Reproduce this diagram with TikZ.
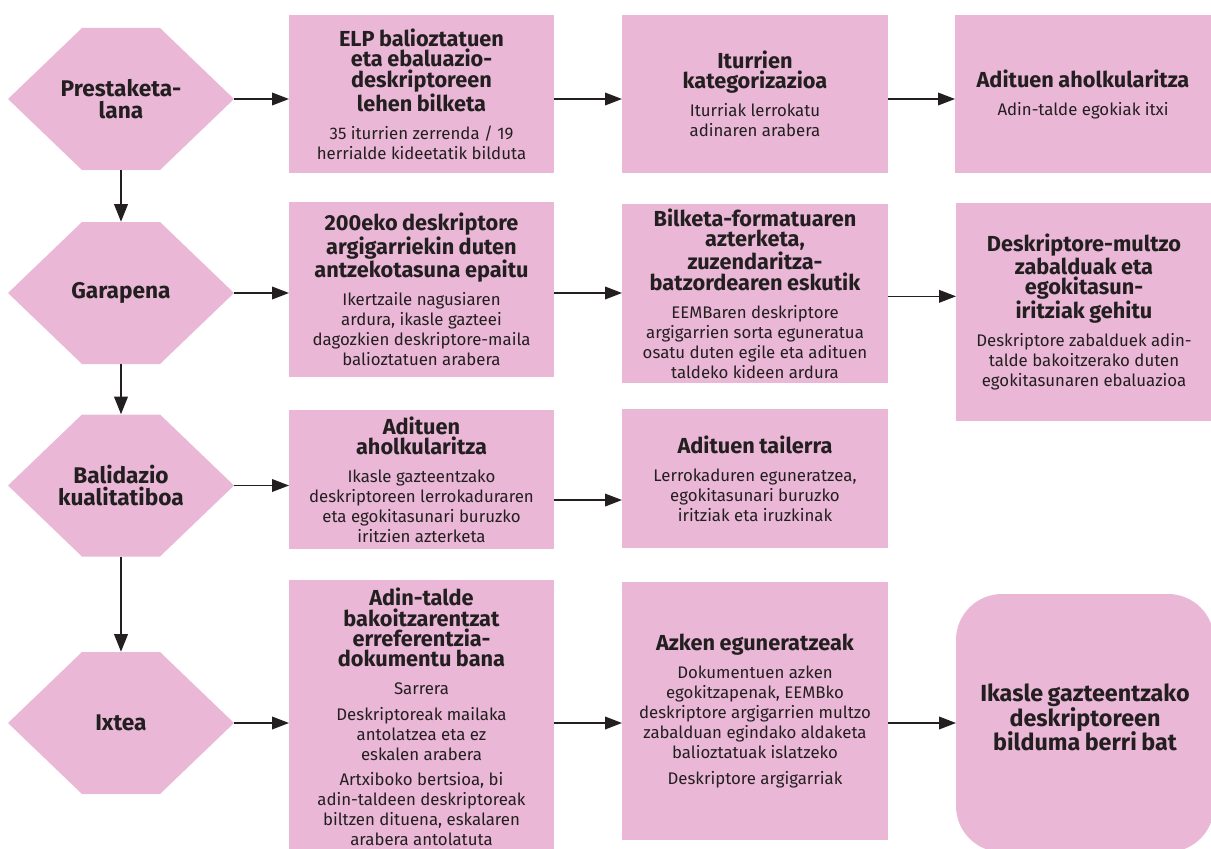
\documentclass[tikz,border=0pt]{standalone}
\usepackage{fontspec}
\setmainfont{Fira Sans}
\usetikzlibrary{arrows.meta,backgrounds}
\definecolor{boxpink}{RGB}{234,183,214}
\definecolor{ink}{RGB}{35,31,32}
\newcommand\ttlfont{\fontsize{16.3pt}{15.3pt}\selectfont\bfseries}
\newcommand\bdyfont{\fontsize{12.6pt}{15pt}\selectfont}
\newcommand\hexfont{\fontsize{17pt}{16pt}\selectfont\bfseries}
\newcommand\resultfont{\fontsize{17.5pt}{18.4pt}\selectfont\bfseries}
\newcommand\gap{\vspace{6pt}}
\newcommand\pgap{\vspace{4pt}}
% centred lines, one paragraph per printed line
\newcommand\centrelines{\setlength{\parindent}{0pt}\setlength{\parskip}{0pt}%
  \leftskip=0pt plus 1fil\rightskip=0pt plus 1fil\parfillskip=0pt\relax}

\begin{document}
\begin{tikzpicture}[x=0.75pt,y=-0.75pt,
  every node/.style={inner sep=0pt,outer sep=0pt,text=ink},
  stepbox/.style 2 args={fill=boxpink,minimum width=#1*0.75pt,
    minimum height=#2*0.75pt,text width=192pt,
    execute at begin node=\centrelines},
  hexnode/.style={minimum width=169.5pt,minimum height=106.5pt,
    text width=160pt,font=\hexfont,execute at begin node=\centrelines},
  harr/.style={draw=ink,line width=1.1pt,-{Triangle[length=12.75pt,width=9.5pt]}},
  varr/.style={draw=ink,line width=2.2pt,-{Triangle[length=13.5pt,width=10pt]}}]
\useasboundingbox (0,0) rectangle (1211,849);
\clip (0,0) rectangle (1211,849);

% phase hexagons (shape filled on the background layer)
\node[hexnode] (h1) at (121,99)    {Prestaketa-\par lana\par};
\node[hexnode] (h2) at (121,293)   {Garapena\par};
\node[hexnode] (h3) at (121,485.5) {Balidazio\par kualitatiboa\par};
\node[hexnode] (h4) at (121,723)   {Ixtea\par};

\begin{scope}[on background layer]
\foreach \h in {h1,h2,h3,h4}
  \fill[boxpink] (\h.west) -- ([xshift=55.5pt]\h.north west)
    -- ([xshift=-55.5pt]\h.north east) -- (\h.east)
    -- ([xshift=-55.5pt]\h.south east) -- ([xshift=55.5pt]\h.south west) -- cycle;
\end{scope}

% row 1
\node[stepbox={265}{158}] (a1) at (421.5,94) {%
  {\ttlfont ELP balioztatuen\par eta ebaluazio-\par deskriptoreen\par lehen bilketa\par}\gap
  {\bdyfont 35 iturrien zerrenda / 19\par herrialde kideetatik bilduta\par}};
\node[stepbox={266}{158}] (a2) at (755,94) {%
  {\ttlfont Iturrien\par kategorizazioa\par}\gap
  {\bdyfont Iturriak lerrokatu\par adinaren arabera\par}};
\node[stepbox={256}{158}] (a3) at (1083,94) {%
  {\ttlfont Adituen aholkularitza\par}\gap
  {\bdyfont Adin-talde egokiak itxi\par}};

% row 2
\node[stepbox={265}{175}] (b1) at (421.5,289.5) {%
  {\ttlfont 200eko deskriptore\par argigarriekin duten\par antzekotasuna epaitu\par}\gap
  {\bdyfont Ikertzaile nagusiaren\par ardura, ikasle gazteei\par dagozkien deskriptore-maila\par balioztatuen arabera\par}};
\node[stepbox={266}{179}] (b2) at (755,293.5) {%
  {\ttlfont Bilketa-formatuaren\par azterketa,\par zuzendaritza-\par batzordearen eskutik\par}\gap
  {\bdyfont EEMBaren deskriptore\par argigarrien sorta eguneratua\par osatu duten egile eta adituen\par taldeko kideen ardura\par}};
\node[stepbox={254}{218}] (b3) at (1084,312) {%
  {\ttlfont Deskriptore-multzo\par zabalduak eta\par egokitasun-\par iritziak gehitu\par}\gap
  {\bdyfont Deskriptore zabalduek adin-\par talde bakoitzerako duten\par egokitasunaren ebaluazioa\par}};

% row 3
\node[stepbox={265}{139}] (c1) at (421.5,479.5) {%
  {\ttlfont Adituen\par aholkularitza\par}\gap
  {\bdyfont Ikasle gazteentzako\par deskriptoreen lerrokaduraren\par eta egokitasunari buruzko\par iritzien azterketa\par}};
\node[stepbox={266}{139}] (c2) at (755,478.5) {%
  {\ttlfont Adituen tailerra\par}\gap
  {\bdyfont Lerrokaduren eguneratzea,\par egokitasunari buruzko\par iritziak eta iruzkinak\par}};

% row 4
\node[stepbox={265}{274}] (d1) at (421.5,717) {%
  {\ttlfont Adin-talde\par bakoitzarentzat\par erreferentzia-\par dokumentu bana\par}\gap
  {\bdyfont Sarrera\par}\pgap
  {\bdyfont Deskriptoreak mailaka\par antolatzea eta ez\par eskalen arabera\par}\pgap
  {\bdyfont Artxiboko bertsioa, bi\par adin-taldeen deskriptoreak\par biltzen dituena, eskalaren\par arabera antolatuta\par}};
\node[stepbox={266}{258}] (d2) at (755,711) {%
  {\ttlfont Azken eguneratzeak\par}\gap
  {\bdyfont Dokumentuen azken\par egokitzapenak, EEMBko\par deskriptore argigarrien multzo\par zabalduan egindako aldaketa\par balioztatuak islatzeko\par}\pgap
  {\bdyfont Deskriptore argigarriak\par}};
\node[stepbox={258}{258},rounded corners=34.5pt] (d3) at (1085,723) {%
  {\resultfont Ikasle gazteentzako\par deskriptoreen\par bilduma berri bat\par}\vspace{8pt}};

% connectors between phases
\draw[varr] (h1.south) -- (h2.north);
\draw[varr] (h2.south) -- (h3.north);
\draw[varr] (h3.south) -- (h4.north);

% connectors along each row
\draw[harr] (h1.east) -- (h1.east -| a1.west);
\draw[harr] (a1.east |- h1.east) -- (a2.west |- h1.east);
\draw[harr] (a2.east |- h1.east) -- (a3.west |- h1.east);

\draw[harr] (h2.east) -- (h2.east -| b1.west);
\draw[harr] (b1.east |- h2.east) -- (b2.west |- h2.east);
\coordinate (b2out) at ([yshift=-2.5pt]b2.east |- h2.east);
\draw[harr] (b2out) -- (b2out -| b3.west);

\draw[harr] (h3.east) -- (h3.east -| c1.west);
\coordinate (c1out) at ([yshift=-15.4pt]c1.east);
\draw[harr] (c1out) -- (c1out -| c2.west);

\draw[harr] (h4.east) -- (h4.east -| d1.west);
\draw[harr] (d1.east |- h4.east) -- (d2.west |- h4.east);
\draw[harr] (d2.east |- h4.east) -- (d3.west |- h4.east);
\end{tikzpicture}
\end{document}
